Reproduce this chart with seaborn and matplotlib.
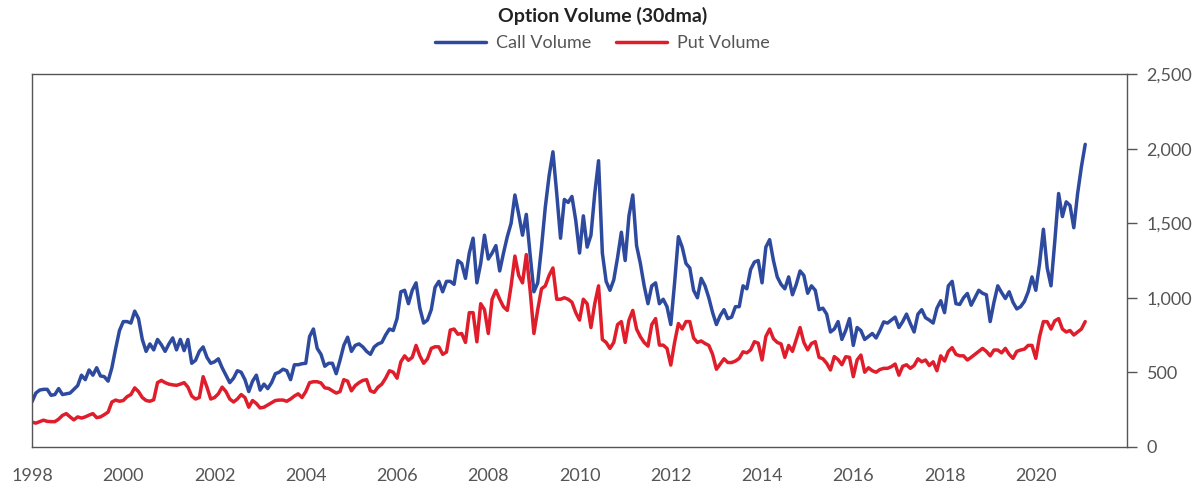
import numpy as np
import pandas as pd
import matplotlib
matplotlib.use("Agg")
import matplotlib.pyplot as plt
import seaborn as sns

# monthly 30dma option volume, Jan 1998 .. Feb 2021
call_volume = [
    302, 360, 380, 385, 385, 345, 350, 390, 350, 355, 360, 385,          # 1998
    410, 480, 450, 515, 480, 530, 475, 470, 440, 530, 660, 780,          # 1999
    840, 840, 830, 910, 860, 720, 640, 690, 650, 720, 685, 640,          # 2000
    690, 730, 650, 720, 645, 720, 560, 580, 640, 670, 600, 560,          # 2001
    570, 590, 530, 480, 430, 460, 510, 500, 450, 370, 440, 480,          # 2002
    380, 420, 390, 430, 490, 500, 520, 510, 450, 550, 550, 557,          # 2003
    560, 740, 790, 660, 620, 540, 560, 560, 490, 580, 680, 735,          # 2004
    640, 680, 690, 670, 640, 620, 670, 690, 700, 750, 790, 780,          # 2005
    860, 1040, 1050, 960, 1050, 1100, 930, 830, 850, 920, 1070, 1110,    # 2006
    1040, 1110, 1110, 1090, 1250, 1230, 1130, 1300, 1400, 1100, 1230, 1420,  # 2007
    1260, 1300, 1350, 1180, 1300, 1410, 1500, 1690, 1560, 1420, 1560, 1290,  # 2008
    1040, 1100, 1340, 1610, 1820, 1980, 1700, 1400, 1660, 1640, 1680, 1520,  # 2009
    1300, 1550, 1340, 1420, 1700, 1920, 1300, 1110, 1050, 1120, 1270, 1440,  # 2010
    1250, 1550, 1690, 1350, 1230, 1080, 960, 1080, 1100, 960, 990, 940,  # 2011
    820, 1100, 1410, 1340, 1230, 1200, 1050, 1000, 1130, 1080, 1000, 900,  # 2012
    820, 880, 920, 860, 870, 940, 940, 1080, 1060, 1190, 1240, 1250,     # 2013
    1100, 1340, 1390, 1250, 1140, 1090, 1060, 1140, 1020, 1090, 1180, 1150,  # 2014
    1030, 1080, 1050, 920, 930, 890, 770, 790, 840, 720, 780, 860,       # 2015
    680, 800, 780, 720, 740, 760, 730, 780, 838, 830, 850, 870,          # 2016
    800, 840, 890, 827, 770, 890, 920, 866, 850, 830, 930, 980,          # 2017
    900, 1080, 1110, 960, 955, 1000, 1029, 950, 1000, 1050, 1030, 1020,  # 2018
    840, 970, 1080, 1035, 995, 1040, 970, 925, 940, 975, 1040, 1140,     # 2019
    1050, 1230, 1460, 1200, 1080, 1380, 1700, 1545, 1644, 1620, 1470, 1700,  # 2020
    1880, 2030,                                                          # 2021
]

put_volume = [
    165, 158, 168, 178, 170, 168, 168, 185, 210, 222, 200, 180,          # 1998
    200, 192, 200, 212, 222, 195, 200, 215, 232, 300, 313, 305,          # 1999
    310, 336, 350, 395, 370, 330, 310, 305, 315, 430, 445, 430,          # 2000
    420, 415, 412, 420, 430, 400, 340, 320, 330, 470, 400, 320,          # 2001
    330, 355, 400, 370, 320, 300, 320, 350, 330, 265, 310, 290,          # 2002
    260, 265, 280, 295, 310, 313, 313, 305, 320, 340, 355, 330,          # 2003
    370, 430, 436, 436, 428, 395, 391, 375, 360, 370, 450, 440,          # 2004
    375, 410, 430, 445, 450, 375, 365, 400, 420, 460, 510, 500,          # 2005
    460, 570, 610, 580, 600, 680, 610, 560, 590, 660, 671, 670,          # 2006
    620, 635, 783, 790, 755, 760, 700, 900, 900, 704, 960, 920,          # 2007
    760, 990, 1050, 990, 939, 915, 1080, 1280, 1150, 1100, 1290, 1050,   # 2008
    760, 920, 1060, 1080, 1150, 1200, 990, 990, 1000, 990, 970, 900,     # 2009
    850, 990, 960, 800, 960, 1080, 720, 700, 660, 700, 820, 840,         # 2010
    700, 850, 915, 790, 738, 700, 675, 820, 860, 682, 682, 660,          # 2011
    548, 700, 827, 790, 840, 840, 730, 700, 710, 693, 680, 620,          # 2012
    520, 555, 590, 565, 565, 575, 593, 637, 630, 650, 705, 695,          # 2013
    582, 740, 790, 725, 700, 690, 600, 680, 640, 720, 800, 700,          # 2014
    650, 693, 705, 600, 590, 560, 515, 605, 585, 550, 604, 600,          # 2015
    470, 582, 615, 500, 530, 510, 500, 518, 526, 526, 537, 555,          # 2016
    480, 540, 550, 526, 545, 590, 570, 582, 545, 570, 510, 610,          # 2017
    575, 640, 665, 620, 610, 610, 582, 600, 620, 640, 660, 640,          # 2018
    610, 649, 649, 630, 660, 620, 593, 640, 649, 655, 680, 680,          # 2019
    593, 740, 840, 839, 790, 845, 860, 790, 770, 780, 750, 770,          # 2020
    790, 840,                                                            # 2021
]

series_names = ["Call Volume", "Put Volume"]
series_colors = ["#2d4a9e", "#e01e2b"]
year_ticks = list(range(1998, 2023, 2))
value_ticks = [0, 500, 1000, 1500, 2000, 2500]

dates = pd.date_range("1998-01-01", periods=len(call_volume), freq="MS")
year_frac = dates.year + (dates.month - 1) / 12.0

df = pd.concat([
    pd.DataFrame({"year": year_frac, "volume": call_volume, "series": series_names[0]}),
    pd.DataFrame({"year": year_frac, "volume": put_volume, "series": series_names[1]}),
])

sns.set_style("white")
plt.rcParams["font.family"] = ["Lato", "DejaVu Sans"]

grey = "#555555"
fig = plt.figure(figsize=(12, 4.87), dpi=100)
ax = fig.add_axes([0.0267, 0.0828, 0.9125, 0.7645])

sns.lineplot(data=df, x="year", y="volume", hue="series",
             palette=dict(zip(series_names, series_colors)),
             linewidth=2.5, ax=ax)

ax.set_xlim(1998, 2022)
ax.set_ylim(0, 2500)
ax.set_xticks(year_ticks)
ax.set_xticklabels([str(y) if y < 2022 else "" for y in year_ticks])
ax.set_yticks(value_ticks)
ax.set_yticklabels([f"{v:,}" for v in value_ticks])
ax.yaxis.tick_right()
ax.set_xlabel("")
ax.set_ylabel("")

for sp in ax.spines.values():
    sp.set_visible(True)
    sp.set_color(grey)
    sp.set_linewidth(1.0)
ax.tick_params(axis="both", direction="out", length=7, width=1.0,
               color=grey, labelcolor=grey, labelsize=13)
ax.tick_params(axis="y", pad=7)
ax.tick_params(axis="x", pad=8)

handles, labels = ax.get_legend_handles_labels()
ax.get_legend().remove()
leg = fig.legend(handles, labels, loc="center", bbox_to_anchor=(0.502, 0.911),
                 ncol=2, frameon=False, fontsize=13,
                 handlelength=2.8, columnspacing=1.4, handletextpad=0.55)
for t in leg.get_texts():
    t.set_color(grey)

fig.text(0.502, 0.968, "Option Volume (30dma)", ha="center", va="center",
         fontsize=14, fontweight="bold", color="#222222")

fig.savefig("out.png", dpi=100)
